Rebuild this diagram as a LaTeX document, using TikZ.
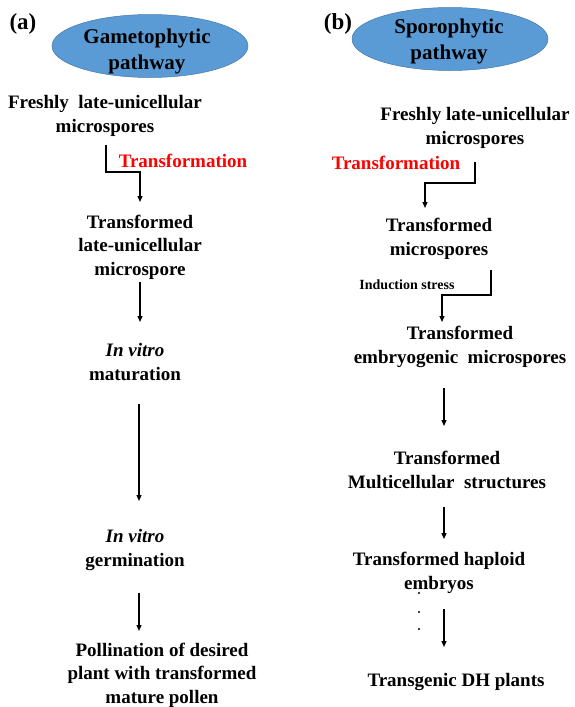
\documentclass[tikz,border=0pt]{standalone}
\usepackage{fontspec}
\setmainfont{Liberation Serif}
\usetikzlibrary{shapes.geometric,arrows.meta,calc}
\definecolor{ellblue}{RGB}{91,155,213}
\definecolor{elledge}{RGB}{70,120,170}
\tikzset{
  txt/.style={font=\fontsize{19}{23.5}\selectfont\bfseries, align=center, inner sep=0pt},
  red lbl/.style={font=\fontsize{19}{23.5}\selectfont\bfseries, text=red, inner sep=0pt},
  small lbl/.style={font=\fontsize{14}{17}\selectfont\bfseries, inner sep=0pt},
  panel/.style={font=\fontsize{23}{27}\selectfont\bfseries, inner sep=0pt},
  pathway/.style={ellipse, fill=ellblue, draw=elledge, line width=0.5pt, inner sep=0pt,
    minimum width=196pt, minimum height=63pt},
  pathtxt/.style={align=center, inner sep=0pt, font=\fontsize{21}{26}\selectfont\bfseries},
  arr/.style={line width=1.3pt, -{Triangle[length=6pt,width=5pt]}},
}
\begin{document}
\begin{tikzpicture}[x=1pt,y=-1pt]
\useasboundingbox (0,0) rectangle (574,707);
% panel labels
\node[panel] (pa) at (23,24) {(a)};
\node[panel] (pb) at (338,24) {(b)};
% ellipses
\node[pathway] (ga) at (150,46) {};
\node[pathtxt] (gat) at ($(ga)+(-3,5)$) {Gametophytic\\pathway};
\node[pathway] (gb) at (450,39) {};
\node[pathtxt] (gbt) at ($(gb)+(-1,2)$) {Sporophytic\\pathway};
% left column
\node[txt] (a1) at (105,116) {Freshly\ \ late-unicellular\\microspores};
\node[txt] (a2) at (140,247) {Transformed\\late-unicellular\\microspore};
\node[txt] (a3) at (135,362) {\itshape In vitro\\maturation};
\node[txt] (a4) at (135,550) {\itshape In vitro\\germination};
\node[txt] (a5) at (162,675) {Pollination of desired\\plant with transformed\\mature pollen};
\node[red lbl] (ta) at (183,161) {Transformation};
% right column
\node[txt] (b1) at (475,128) {Freshly late-unicellular\\microspores};
\node[txt] (b2) at (439,239) {Transformed\\microspores};
\node[txt] (b3) at (460,347) {Transformed\\embryogenic\ \ microspores};
\node[txt] (b4) at (447,470) {Transformed\\Multicellular\ \ structures};
\node[txt] (b5) at (439,573) {Transformed haploid\\embryos};
\node[txt] (b6) at (456,682) {Transgenic DH plants};
\node[red lbl] (tb) at (396,163) {Transformation};
\node[small lbl] (is) at (407,285) {Induction stress};
% left connectors
\draw[arr] ($(a1)+(1,29)$) |- ($(a2)+(0,-75)$) -- ($(a2)+(0,-45)$);
\draw[arr] ($(a2)+(0,35)$) -- ($(a3)+(5,-40)$);
\draw[arr] ($(a3)+(4,42)$) -- ($(a4)+(4,-49)$);
\draw[arr] ($(a4)+(4,43)$) -- ($(a5)+(-23,-44)$);
% right connectors
\draw[arr] ($(b1)+(0,34)$) |- ($(b2)+(-14,-56)$) -- ($(b2)+(-14,-31)$);
\draw[arr] ($(b2)+(52,31)$) |- ($(b3)+(-18,-52)$) -- ($(b3)+(-18,-25)$);
\draw[arr] ($(b3)+(-16,41)$) -- ($(b4)+(-3,-44)$);
\draw[arr] ($(b4)+(-3,37)$) -- ($(b5)+(5,-34)$);
\draw[arr] ($(b5)+(5,36)$) -- ($(b6)+(-12,-35)$);
% dots
\fill ($(b5)+(-20,20)$) circle (1.2pt);
\fill ($(b5)+(-20,39)$) circle (1.2pt);
\fill ($(b5)+(-20,56)$) circle (1.2pt);
\end{tikzpicture}
\end{document}
